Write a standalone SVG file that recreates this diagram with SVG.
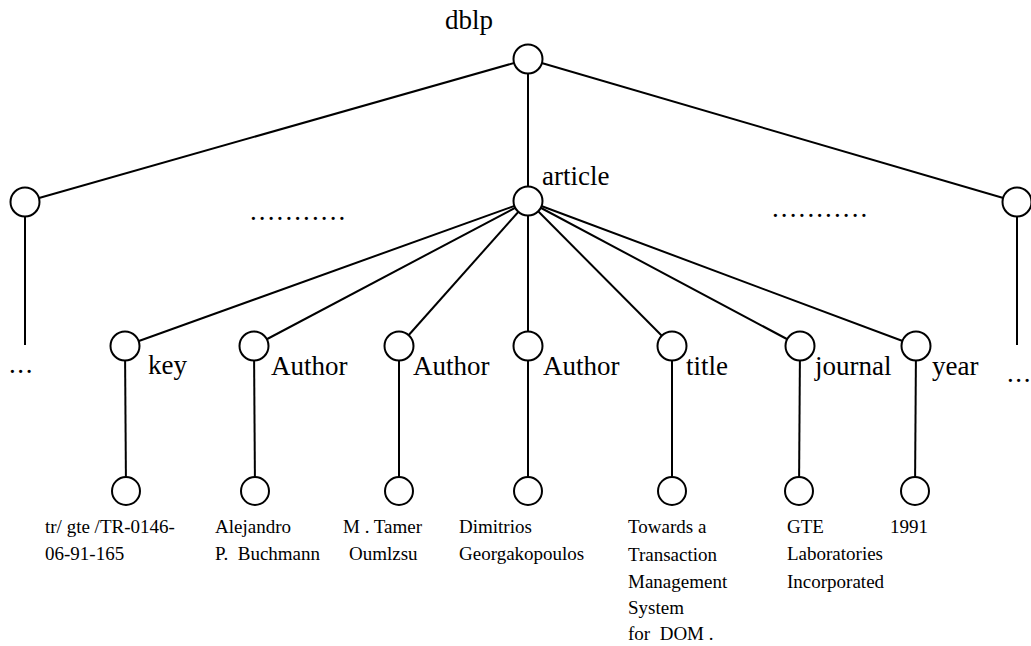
<svg xmlns="http://www.w3.org/2000/svg" width="1031" height="646" viewBox="0 0 1031 646">
  <style>
    .edge { stroke: #000; stroke-width: 2; fill: none; }
    .node { fill: #fff; stroke: #000; stroke-width: 2; }
    .lbl { font-family: "Liberation Serif", "Times New Roman", serif; font-size: 27px; fill: #000; }
    .val { font-family: "Liberation Serif", "Times New Roman", serif; font-size: 19px; fill: #000; white-space: pre; }
    .dots { font-family: "Liberation Serif", "Times New Roman", serif; font-size: 27px; fill: #000; }
  </style>
  <rect width="1031" height="646" fill="#fff"/>

  <!-- tree edges -->
  <g id="connectors">
    <line class="edge" x1="528" y1="59" x2="25" y2="202"/>
    <line class="edge" x1="528" y1="59" x2="1017" y2="202"/>
    <line class="edge" x1="528" y1="59" x2="528" y2="201"/>
    <line class="edge" x1="25" y1="202" x2="25" y2="345"/>
    <line class="edge" x1="1017" y1="202" x2="1017" y2="345"/>
    <line class="edge" x1="528" y1="201" x2="125" y2="346"/>
    <line class="edge" x1="528" y1="201" x2="254" y2="346"/>
    <line class="edge" x1="528" y1="201" x2="399" y2="346"/>
    <line class="edge" x1="528" y1="201" x2="528" y2="346"/>
    <line class="edge" x1="528" y1="201" x2="672" y2="346"/>
    <line class="edge" x1="528" y1="201" x2="800" y2="346"/>
    <line class="edge" x1="528" y1="201" x2="916" y2="346"/>
    <line class="edge" x1="125" y1="346" x2="126" y2="491"/>
    <line class="edge" x1="254" y1="346" x2="255" y2="491"/>
    <line class="edge" x1="399" y1="346" x2="399" y2="491"/>
    <line class="edge" x1="528" y1="346" x2="528" y2="491"/>
    <line class="edge" x1="672" y1="346" x2="672" y2="491"/>
    <line class="edge" x1="800" y1="346" x2="799" y2="491"/>
    <line class="edge" x1="916" y1="346" x2="915" y2="491"/>
  </g>

  <!-- root -->
  <g id="dblp">
    <circle class="node" cx="528" cy="59" r="14.5"/>
    <text class="lbl" x="445" y="29">dblp</text>
  </g>

  <!-- elided siblings -->
  <g id="left-sibling">
    <circle class="node" cx="25" cy="202" r="14.5"/>
    <text class="dots" x="9" y="373" letter-spacing="1.6">...</text>
  </g>
  <g id="right-sibling">
    <circle class="node" cx="1017" cy="202" r="14.5"/>
    <text class="dots" x="1007" y="382" letter-spacing="1.6">...</text>
  </g>
  <g id="left-ellipsis">
    <text class="dots" x="250" y="220" letter-spacing="2.1">...........</text>
  </g>
  <g id="right-ellipsis">
    <text class="dots" x="772" y="217" letter-spacing="2.1">...........</text>
  </g>

  <!-- article element -->
  <g id="article">
    <circle class="node" cx="528" cy="201" r="14.5"/>
    <text class="lbl" x="542" y="185">article</text>
  </g>

  <!-- child elements -->
  <g id="key">
    <circle class="node" cx="125" cy="346" r="14.5"/>
    <text class="lbl" x="148" y="374">key</text>
  </g>
  <g id="author1">
    <circle class="node" cx="254" cy="346" r="14.5"/>
    <text class="lbl" x="271" y="375">Author</text>
  </g>
  <g id="author2">
    <circle class="node" cx="399" cy="346" r="14.5"/>
    <text class="lbl" x="413" y="375">Author</text>
  </g>
  <g id="author3">
    <circle class="node" cx="528" cy="346" r="14.5"/>
    <text class="lbl" x="543" y="375">Author</text>
  </g>
  <g id="title">
    <circle class="node" cx="672" cy="346" r="14.5"/>
    <text class="lbl" x="686" y="375">title</text>
  </g>
  <g id="journal">
    <circle class="node" cx="800" cy="346" r="14.5"/>
    <text class="lbl" x="815" y="375">journal</text>
  </g>
  <g id="year">
    <circle class="node" cx="916" cy="346" r="14.5"/>
    <text class="lbl" x="932" y="375">year</text>
  </g>

  <!-- text values -->
  <g id="key-value">
    <circle class="node" cx="126" cy="491" r="14"/>
    <text class="val" x="45" y="533">tr/ gte /TR-0146-</text>
    <text class="val" x="45" y="560">06-91-165</text>
  </g>
  <g id="author1-value">
    <circle class="node" cx="255" cy="491" r="14"/>
    <text class="val" x="215" y="533">Alejandro</text>
    <text class="val" x="215" y="560">P.  Buchmann</text>
  </g>
  <g id="author2-value">
    <circle class="node" cx="399" cy="491" r="14"/>
    <text class="val" x="343" y="533">M . Tamer</text>
    <text class="val" x="349" y="560">Oumlzsu</text>
  </g>
  <g id="author3-value">
    <circle class="node" cx="528" cy="491" r="14"/>
    <text class="val" x="459" y="533">Dimitrios</text>
    <text class="val" x="459" y="560">Georgakopoulos</text>
  </g>
  <g id="title-value">
    <circle class="node" cx="672" cy="491" r="14"/>
    <text class="val" x="628" y="533">Towards a</text>
    <text class="val" x="628" y="561">Transaction</text>
    <text class="val" x="628" y="588">Management</text>
    <text class="val" x="628" y="614">System</text>
    <text class="val" x="628" y="640">for  DOM .</text>
  </g>
  <g id="journal-value">
    <circle class="node" cx="799" cy="491" r="14"/>
    <text class="val" x="787" y="533">GTE</text>
    <text class="val" x="787" y="560">Laboratories</text>
    <text class="val" x="787" y="588">Incorporated</text>
  </g>
  <g id="year-value">
    <circle class="node" cx="915" cy="491" r="14"/>
    <text class="val" x="890" y="533">1991</text>
  </g>
</svg>
